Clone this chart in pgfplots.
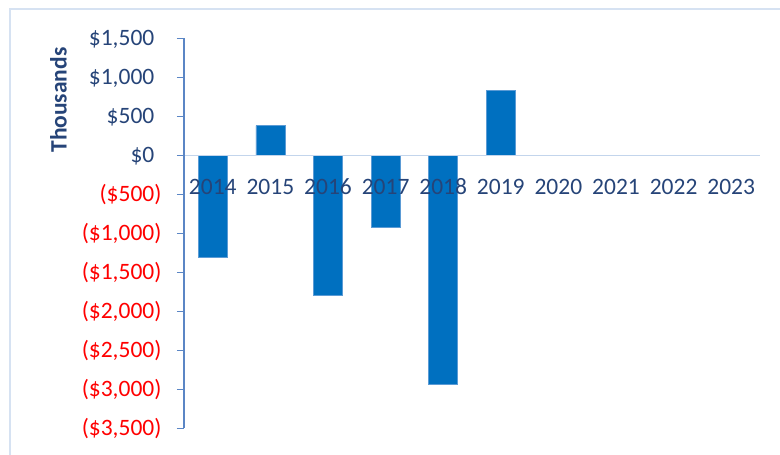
\documentclass[border=0pt]{standalone}
\usepackage{pgfplots}
\pgfplotsset{compat=1.18}
\usepackage{fontspec}
\setmainfont{Carlito}

\definecolor{barblue}{HTML}{0070C0}
\definecolor{bardraw}{HTML}{5B9BD5}
\definecolor{lbltext}{HTML}{264478}
\definecolor{axisblue}{HTML}{5B86C5}
\definecolor{zeroline}{HTML}{C3D5EC}
\definecolor{framecol}{HTML}{D6E2F2}
\definecolor{negred}{HTML}{FF0000}

% net value per year, thousands of dollars
\pgfplotstableread{
x val
0 -1310
1 380
2 -1800
3 -920
4 -2930
5 830
}\netdata

\newcommand{\negl}[1]{\textcolor{negred}{(\$#1)}}
\newcommand{\posl}[1]{\$#1\phantom{)}}

\begin{document}
\begin{tikzpicture}
  \useasboundingbox (-184pt,-26.7pt) rectangle (596pt,428.3pt);
  \draw[framecol, line width=1.5pt] (-174pt,419.3pt) rectangle (640pt,-80pt);
  \begin{axis}[
    scale only axis, width=576pt, height=390pt,
    xmin=-0.5, xmax=9.5, ymin=-3500, ymax=1500,
    axis x line=middle, axis y line=left, axis on top,
    x axis line style={-, draw=zeroline, line width=1.5pt},
    y axis line style={-, draw=axisblue, line width=1.2pt},
    xtick={0,...,9},
    xticklabels={2014,2015,2016,2017,2018,2019,2020,2021,2022,2023},
    xtick style={draw=none},
    xticklabel style={yshift=-13pt},
    ytick={-3500,-3000,...,1500},
    yticklabels={\negl{3,500},\negl{3,000},\negl{2,500},\negl{2,000},\negl{1,500},
      \negl{1,000},\negl{500},\posl{0},\posl{500},\posl{1,000},\posl{1,500}},
    ytick style={draw=axisblue, line width=1.2pt},
    tick align=outside, major tick length=7pt,
    yticklabel style={xshift=-12pt},
    every tick label/.append style={font=\fontsize{23.5}{28}\selectfont, text=lbltext},
    ybar, bar width=29pt,
  ]
    \addplot[fill=barblue, draw=bardraw, line width=0.6pt] table[x=x, y=val] {\netdata};
  \end{axis}
  \node[rotate=90, text=lbltext, font=\fontsize{23.5}{28}\selectfont\bfseries]
    at (-125.5pt,328.3pt) {Thousands};
\end{tikzpicture}
\end{document}
